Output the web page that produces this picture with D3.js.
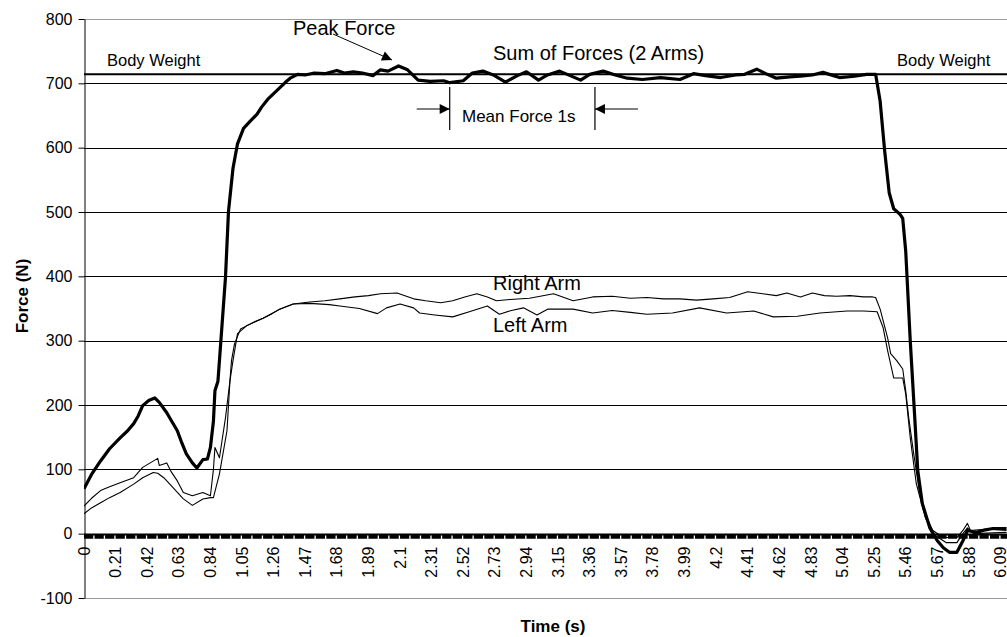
<!DOCTYPE html>
<html><head><meta charset="utf-8">
<script src="https://cdn.jsdelivr.net/npm/d3@7"></script>
<style>
html,body{margin:0;padding:0;background:#fff;}
svg{display:block;font-family:"Liberation Sans",Arial,sans-serif;}
</style></head>
<body><svg id="c" width="1007" height="637"></svg>
<script>
// ---- data (time in s, force in N) ----
const xTickLabels = ["0","0.21","0.42","0.63","0.84","1.05","1.26","1.47","1.68","1.89","2.1","2.31","2.52","2.73","2.94","3.15","3.36","3.57","3.78","3.99","4.2","4.41","4.62","4.83","5.04","5.25","5.46","5.67","5.88","6.09"];
const yTicks = [-100,0,100,200,300,400,500,600,700,800];
const bodyWeight = 714;
const meanWindow = [2.43, 3.395];

const sumTime = [0.00,0.05,0.11,0.17,0.24,0.29,0.33,0.36,0.39,0.43,0.47,0.50,0.55,0.58,0.62,0.65,0.68,0.72,0.75,0.79,0.82,0.84,0.86,0.87,0.89,0.90,0.94,0.96,0.99,1.02,1.06,1.10,1.15,1.18,1.22,1.26,1.30,1.34,1.37,1.42,1.47,1.53,1.60,1.68,1.73,1.79,1.85,1.92,1.97,2.02,2.09,2.15,2.22,2.30,2.39,2.43,2.52,2.58,2.65,2.72,2.80,2.88,2.94,3.02,3.08,3.16,3.23,3.30,3.36,3.45,3.53,3.61,3.71,3.83,3.96,4.05,4.13,4.23,4.33,4.39,4.47,4.54,4.60,4.69,4.76,4.84,4.91,4.98,5.02,5.12,5.20,5.26,5.29,5.32,5.35,5.38,5.42,5.44,5.46,5.49,5.52,5.54,5.57,5.62,5.67,5.71,5.75,5.80,5.84,5.87,5.93,5.99,6.04,6.13];
const sumForce = [70,92,113,132,149,160,171,183,199,207,211,204,188,176,160,141,124,110,102,115,116,134,175,222,237,269,398,501,568,606,630,640,652,663,675,684,693,702,708,714,713,716,715,720,716,718,716,712,721,719,727,721,705,703,704,701,704,716,719,713,702,712,718,705,713,719,712,705,714,719,713,708,706,709,706,715,712,709,713,714,722,714,708,710,711,713,717,712,709,711,714,714,672,595,530,505,497,490,439,300,180,98,47,9,-11,-22,-29,-29,-11,5,2,6,8,8];

const rightTime = [0.00,0.05,0.11,0.17,0.24,0.33,0.39,0.44,0.49,0.50,0.55,0.58,0.62,0.66,0.72,0.79,0.84,0.86,0.87,0.90,0.94,0.97,0.98,1.00,1.04,1.08,1.14,1.19,1.25,1.30,1.39,1.50,1.60,1.70,1.80,1.89,1.97,2.08,2.19,2.27,2.37,2.45,2.53,2.61,2.68,2.74,2.83,2.96,3.12,3.25,3.38,3.51,3.63,3.74,3.85,3.96,4.07,4.18,4.29,4.41,4.51,4.60,4.67,4.76,4.84,4.92,5.00,5.09,5.18,5.24,5.26,5.29,5.34,5.36,5.40,5.44,5.46,5.48,5.51,5.55,5.60,5.64,5.71,5.80,5.84,5.87,5.89,6.00,6.13];
const rightArm = [43,55,67,73,79,87,103,110,117,106,110,96,82,64,59,64,59,100,134,118,180,238,269,295,318,323,330,335,342,349,357,360,362,365,368,370,373,374,365,362,359,362,368,373,368,362,364,366,373,362,368,369,366,367,365,365,363,365,367,376,373,370,374,368,374,370,369,370,368,368,367,349,304,280,269,256,222,180,129,67,25,5,-6,-6,5,16,5,7,5];

const leftTime = [0.00,0.05,0.11,0.17,0.24,0.33,0.39,0.46,0.49,0.53,0.59,0.66,0.72,0.79,0.84,0.86,0.90,0.95,0.97,0.99,1.02,1.08,1.19,1.30,1.39,1.50,1.63,1.70,1.83,1.95,2.01,2.10,2.19,2.23,2.33,2.45,2.56,2.68,2.76,2.84,2.92,3.01,3.08,3.25,3.38,3.51,3.63,3.74,3.91,4.09,4.27,4.45,4.58,4.74,4.89,5.07,5.18,5.27,5.31,5.34,5.38,5.44,5.46,5.49,5.53,5.59,5.64,5.73,5.80,5.84,5.87,5.91,6.13];
const leftArm = [31,40,48,56,64,77,87,95,94,87,72,54,44,54,56,56,93,160,238,269,311,323,335,349,357,358,356,354,350,342,351,357,351,343,340,337,345,354,341,347,351,340,349,349,343,347,344,341,343,351,343,346,337,338,343,346,346,345,320,284,242,242,217,149,78,25,0,-14,-14,0,9,0,2];

// ---- chart ----
const svg = d3.select("#c");
const pLeft = 84, pTop = 19, pBottom = 598, pRight = 1007;
const x = d3.scaleLinear().domain([0, 6.09]).range([pLeft, pLeft + 6.09 * 150.5]);
const y = d3.scaleLinear().domain([-100, 800]).range([pBottom, pTop]);

const defs = svg.append("defs");
defs.append("clipPath").attr("id","plot")
  .append("rect").attr("x", pLeft).attr("y", pTop - 5).attr("width", pRight - pLeft).attr("height", pBottom - pTop + 10);
defs.append("marker").attr("id","ah").attr("viewBox","0 0 10 10").attr("refX",10).attr("refY",5)
  .attr("markerWidth",12).attr("markerHeight",10).attr("markerUnits","userSpaceOnUse").attr("orient","auto")
  .append("path").attr("d","M0,0L10,5L0,10Z").attr("fill","#000");

// gridlines
svg.append("g").selectAll("line").data(yTicks).join("line")
  .attr("x1", pLeft).attr("x2", pRight)
  .attr("y1", d => Math.round(y(d)) + 0.5).attr("y2", d => Math.round(y(d)) + 0.5)
  .attr("stroke", d => (d === 800 || d === -100) ? "#9a9a9a" : "#000")
  .attr("stroke-width", 1);

// y axis
const yAxis = svg.append("g").attr("transform", `translate(${pLeft + 0.5},0)`)
  .call(d3.axisLeft(y).tickValues(yTicks).tickSize(6).tickSizeOuter(0).tickFormat(d => String(d)));
yAxis.select(".domain").attr("stroke","#000");
yAxis.selectAll(".tick line").attr("stroke","#000");
yAxis.selectAll(".tick text").attr("font-size", 16).attr("font-family","Liberation Sans, Arial, sans-serif").attr("fill","#000").attr("x", -12);

// x axis (zero line with tick band)
const xZero = Math.round(y(0)) + 0.5;
svg.append("line").attr("x1", pLeft).attr("x2", pRight).attr("y1", xZero).attr("y2", xZero)
  .attr("stroke","#000").attr("stroke-width", 2);
const step = x(0.07) - x(0);
svg.append("line").attr("x1", pLeft).attr("x2", pRight).attr("y1", xZero + 2).attr("y2", xZero + 2)
  .attr("stroke","#000").attr("stroke-width", 4.5).attr("stroke-dasharray", `${step - 1.3},1.3`);

const xTickVals = xTickLabels.map(Number);
svg.append("g").selectAll("text").data(xTickVals).join("text")
  .attr("transform", (d) => `translate(${x(d)},${xZero + 12}) rotate(-90)`)
  .attr("text-anchor","end").attr("dy","0.35em")
  .attr("font-size", 16).attr("fill","#000")
  .text((d, i) => xTickLabels[i]);

// body weight line
svg.append("line").attr("x1", pLeft).attr("x2", pRight).attr("y1", y(bodyWeight)).attr("y2", y(bodyWeight))
  .attr("stroke","#000").attr("stroke-width", 2);

// series
const line = d3.line().x(d => x(d[0])).y(d => y(d[1]));
const plot = svg.append("g").attr("clip-path","url(#plot)");
plot.append("path").datum(d3.zip(rightTime, rightArm)).attr("d", line)
  .attr("fill","none").attr("stroke","#000").attr("stroke-width", 1.1).attr("stroke-linejoin","round");
plot.append("path").datum(d3.zip(leftTime, leftArm)).attr("d", line)
  .attr("fill","none").attr("stroke","#000").attr("stroke-width", 1.1).attr("stroke-linejoin","round");
plot.append("path").datum(d3.zip(sumTime, sumForce)).attr("d", line)
  .attr("fill","none").attr("stroke","#000").attr("stroke-width", 3.2).attr("stroke-linejoin","round");

// annotations
const ann = svg.append("g").attr("fill","#000");
ann.append("text").attr("x", 107).attr("y", 66).attr("font-size", 16.5).text("Body Weight");
ann.append("text").attr("x", 897).attr("y", 66).attr("font-size", 16.5).text("Body Weight");
ann.append("text").attr("x", 293).attr("y", 35).attr("font-size", 20).text("Peak Force");
ann.append("text").attr("x", 493).attr("y", 60).attr("font-size", 20).text("Sum of Forces (2 Arms)");
ann.append("text").attr("x", 493).attr("y", 290).attr("font-size", 20).text("Right Arm");
ann.append("text").attr("x", 493).attr("y", 332).attr("font-size", 20).text("Left Arm");
ann.append("text").attr("x", 462).attr("y", 122).attr("font-size", 17).text("Mean Force 1s");
// peak arrow
svg.append("line").attr("x1", 333).attr("y1", 34).attr("x2", 392).attr("y2", 60)
  .attr("stroke","#000").attr("stroke-width",1).attr("marker-end","url(#ah)");
// mean window
const mx0 = x(meanWindow[0]), mx1 = x(meanWindow[1]);
[mx0, mx1].forEach(v => svg.append("line").attr("x1", v).attr("x2", v).attr("y1", 87).attr("y2", 130)
  .attr("stroke","#000").attr("stroke-width",1.2));
svg.append("line").attr("x1", mx0 - 33).attr("x2", mx0).attr("y1", 109).attr("y2", 109)
  .attr("stroke","#000").attr("stroke-width",1).attr("marker-end","url(#ah)");
svg.append("line").attr("x1", mx1 + 43).attr("x2", mx1).attr("y1", 109).attr("y2", 109)
  .attr("stroke","#000").attr("stroke-width",1).attr("marker-end","url(#ah)");

// axis titles
svg.append("text").attr("transform", `translate(28,296) rotate(-90)`).attr("text-anchor","middle")
  .attr("font-size", 17).attr("font-weight","bold").text("Force (N)");
svg.append("text").attr("x", 553).attr("y", 632).attr("text-anchor","middle")
  .attr("font-size", 17).attr("font-weight","bold").text("Time (s)");
</script></body></html>
